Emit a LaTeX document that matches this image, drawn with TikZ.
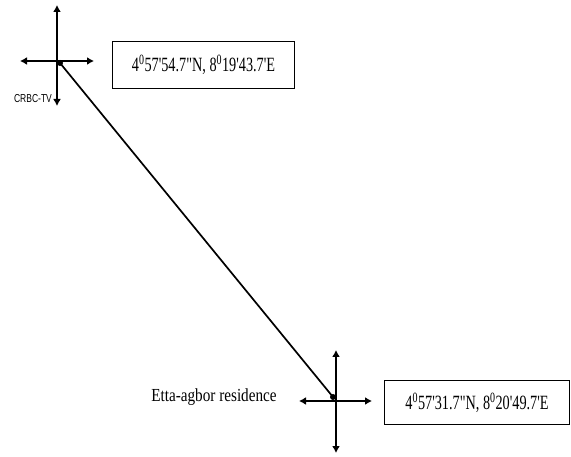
\documentclass[tikz,border=0pt]{standalone}
\usepackage{fontspec}
\setmainfont{Liberation Serif}
\setsansfont{Liberation Sans}
\usetikzlibrary{arrows.meta}
\tikzset{
  axis/.style={line width=2.4pt, {Latex[length=7pt,width=8pt]}-{Latex[length=7pt,width=8pt]}},
  coordbox/.style={draw, line width=1.1pt, minimum width=182pt, minimum height=47pt, inner sep=0pt, font=\fontsize{15}{15}\selectfont},
  link/.style={line width=1.7pt},
  pin/.style={circle, fill, inner sep=0pt, minimum size=6pt}
}
\newcommand{\coordtext}[1]{\scalebox{0.95}[1.35]{#1}}
\newcommand{\sq}{\textquotesingle}
\newcommand{\dq}{\textquotedbl}
\begin{document}
\begin{tikzpicture}[x=1pt,y=-1pt]
  \useasboundingbox (0,0) rectangle (571,457);
  % upper station
  \draw[axis] (57,5) -- (57,106);
  \draw[axis] (20,61) -- (94,61);
  \node[pin] (p1) at (60,63) {};
  \node[font=\sffamily\fontsize{10}{10}\selectfont] (l1) at (33,99) {\scalebox{0.85}[1.15]{CRBC-TV}};
  \node[coordbox, anchor=north west] (b1) at (112,41) {\coordtext{4\textsuperscript{0}57\sq54.7\dq N, 8\textsuperscript{0}19\sq43.7\sq E}};
  % lower station
  \draw[axis] (336,350) -- (336,453);
  \draw[axis] (299,401) -- (372,401);
  \node[pin] (p2) at (333,397) {};
  \node[font=\fontsize{16}{16}\selectfont] (l2) at (214,397) {\scalebox{0.95}[1.15]{Etta-agbor residence}};
  \node[coordbox, anchor=north west, minimum width=185pt, minimum height=44pt] (b2) at (384,380) {\coordtext{4\textsuperscript{0}57\sq31.7\dq N, 8\textsuperscript{0}20\sq49.7\sq E}};
  % link between the two sites
  \draw[link] (p1.center) -- (p2.center);
\end{tikzpicture}
\end{document}
